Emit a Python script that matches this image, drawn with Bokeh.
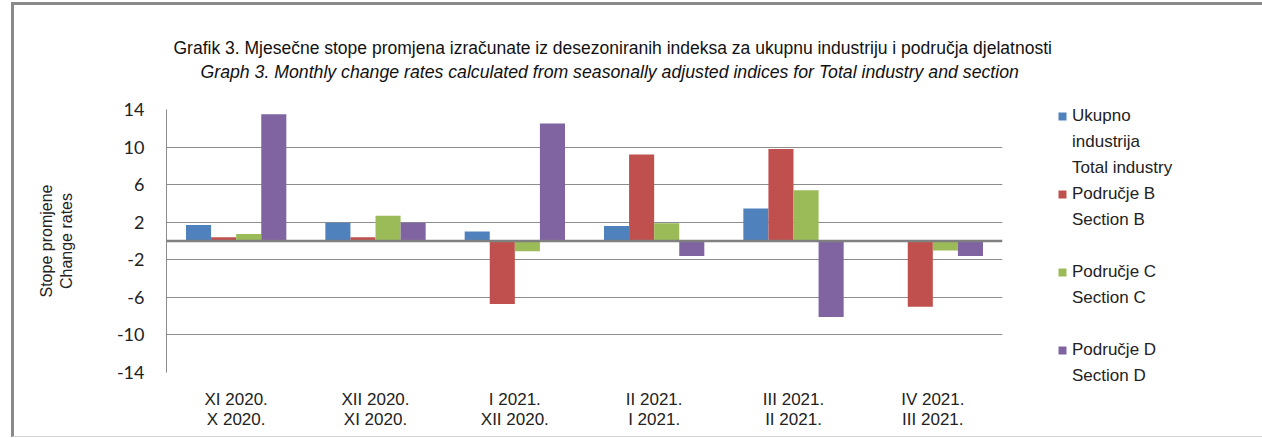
from bokeh.plotting import figure
from bokeh.models import (FactorRange, FixedTicker, Span, Legend, LegendItem,
                          Title, ColumnDataSource)
from bokeh.transform import dodge
from bokeh.embed import file_html
from bokeh.resources import INLINE

categories = ["XI 2020.\nX 2020.", "XII 2020.\nXI 2020.", "I 2021.\nXII 2020.",
              "II 2021.\nI 2021.", "III 2021.\nII 2021.", "IV 2021.\nIII 2021."]
total_industry = [1.7, 1.95, 1.0, 1.6, 3.45, 0.0]
section_b = [0.4, 0.4, -6.7, 9.2, 9.8, -7.0]
section_c = [0.75, 2.7, -1.1, 1.9, 5.4, -1.0]
section_d = [13.5, 1.95, 12.5, -1.6, -8.1, -1.6]
y_ticks = [-14, -10, -6, -2, 2, 6, 10, 14]

series_labels = [["Ukupno", "industrija", "Total industry"], ["Područje B", "Section B"],
                 ["Područje C", "Section C"], ["Područje D", "Section D"]]
series_keys = ["total", "b", "c", "d"]
colors = ["#4F81BD", "#C0504D", "#9BBB59", "#8064A2"]
offsets = [-0.27, -0.09, 0.09, 0.27]

title1 = "Grafik 3. Mjesečne stope promjena izračunate iz desezoniranih indeksa za ukupnu industriju i područja djelatnosti"
title2 = "Graph 3. Monthly change rates calculated from seasonally adjusted indices for Total industry and section"

src = ColumnDataSource(dict(cat=categories, total=total_industry, b=section_b,
                            c=section_c, d=section_d))

FONT = "Liberation Sans"

p = figure(x_range=FactorRange(*categories), y_range=(-14, 14),
           frame_width=836, frame_height=263,
           min_border_left=152, min_border_right=240, min_border_top=104, min_border_bottom=64,
           output_backend="svg", toolbar_location=None)
p.styles = {"margin-left": "11px", "margin-top": "2px",
            "border-left": "3px solid #8a8a8a", "border-top": "3px solid #8a8a8a",
            "border-bottom": "1px solid #d4d4d4"}
p.outline_line_color = None
p.background_fill_color = "white"
p.xgrid.grid_line_color = None
p.yaxis.ticker = FixedTicker(ticks=y_ticks)
p.ygrid.grid_line_color = "#8c8c8c"
p.ygrid.grid_line_width = 1

ya = p.yaxis[0]
ya.axis_line_color = "#8c8c8c"
ya.major_tick_line_color = None
ya.minor_tick_line_color = None
ya.major_tick_out = 0
ya.major_label_standoff = 22
ya.major_label_overrides = {t: str(t) for t in y_ticks}
ya.major_label_text_font = "Lato"
ya.major_label_text_font_size = "18px"
ya.major_label_text_color = "#222222"
ya.axis_label = "Stope promjene\nChange rates"
ya.axis_label_text_font = FONT
ya.axis_label_text_font_size = "16px"
ya.axis_label_text_font_style = "normal"
ya.axis_label_text_color = "#222222"
ya.axis_label_standoff = 39

xa = p.xaxis[0]
xa.axis_line_color = None
xa.major_tick_line_color = None
xa.minor_tick_line_color = None
xa.major_tick_out = 0
xa.major_label_standoff = 17
xa.major_label_text_font = FONT
xa.major_label_text_font_size = "17px"
xa.major_label_text_color = "#222222"
xa.major_label_text_line_height = 1.1

renderers = []
for key, col, off in zip(series_keys, colors, offsets):
    r = p.vbar(x=dodge("cat", off, range=p.x_range), top=key, width=0.18,
               source=src, fill_color=col, line_color=None)
    renderers.append(r)

# invisible renderer used for legend continuation lines (no glyph drawn)
blank = p.vbar(x=[], top=[], width=0.18, fill_alpha=0, line_alpha=0)

p.add_layout(Span(location=0, dimension="width", line_color="#808080", line_width=2.5))

items = []
for i, (r, lines) in enumerate(zip(renderers, series_labels)):
    items.append(LegendItem(label=lines[0], renderers=[r]))
    for ln in lines[1:]:
        items.append(LegendItem(label=ln, renderers=[blank]))
    if i in (1, 2):
        items.append(LegendItem(label=" ", renderers=[blank]))

lg = Legend(items=items, location=(55, -17), orientation="vertical",
            padding=0, margin=0, spacing=0, border_line_color=None, background_fill_alpha=0,
            glyph_width=10, glyph_height=10, label_standoff=5, label_height=26,
            label_text_font=FONT, label_text_font_size="17px",
            label_text_color="#222222")
p.add_layout(lg, "right")

spacer = Title(text=" ", text_font_size="1px", standoff=24)
t2 = Title(text=title2, align="left", offset=34, text_font=FONT, text_font_size="17.7px",
           text_font_style="italic", text_color="#111111", standoff=2)
t1 = Title(text=title1, align="left", offset=7, text_font=FONT, text_font_size="17.5px",
           text_font_style="normal", text_color="#111111", standoff=2)
p.add_layout(spacer, "above")
p.add_layout(t2, "above")
p.add_layout(t1, "above")

open("out.html", "w").write(file_html(p, INLINE))
